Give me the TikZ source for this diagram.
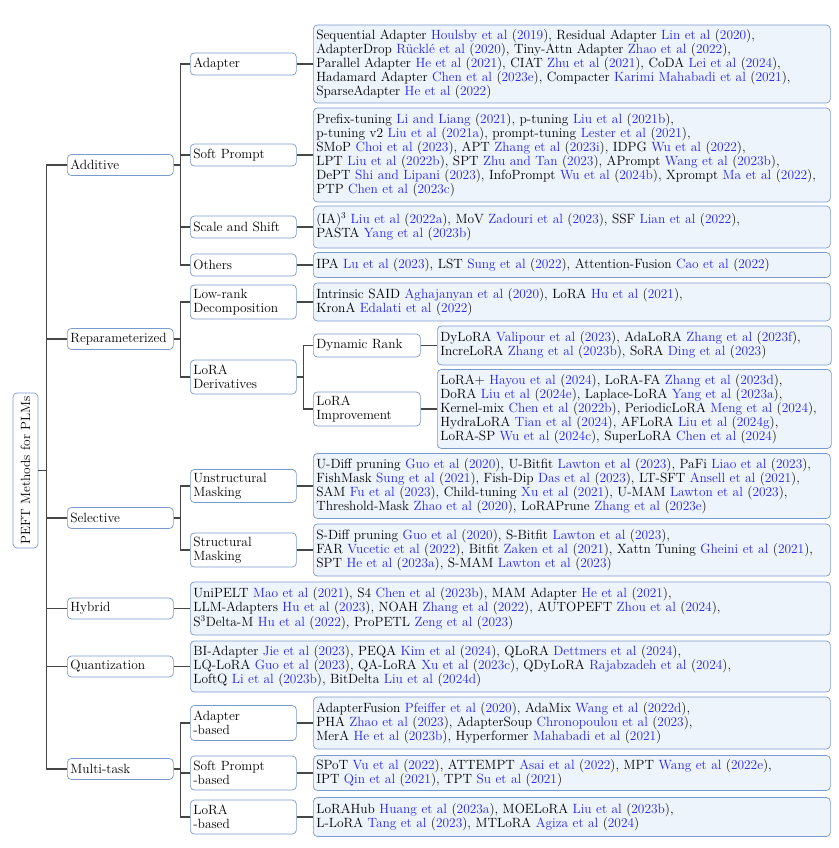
\documentclass[tikz,border=0pt]{standalone}
\definecolor{bcol}{RGB}{122,154,204}
\definecolor{lfill}{RGB}{238,244,252}
\definecolor{cb}{RGB}{35,35,235}
\definecolor{lcol}{RGB}{70,70,70}
\newcommand{\rf}[2]{\textcolor{cb}{#1} (\textcolor{cb}{#2})}
\tikzset{
 box/.style={draw=bcol, line width=0.7pt, rounded corners=4pt, anchor=west, align=left, inner xsep=3pt, inner ysep=1pt},
 cat/.style={box, fill=white, text width=100pt},
 sub/.style={box, fill=white, text width=101pt},
 leaf/.style={box, fill=lfill},
 wleaf/.style={leaf, text width=511pt},
 hleaf/.style={leaf, text width=634pt},
 nleaf/.style={leaf, text width=388pt},
 conn/.style={draw=lcol, line width=1.1pt},
}
\begin{document}
\begin{tikzpicture}[x=1pt, y=-1pt, font=\fontsize{13.4}{13.9}\selectfont]
\useasboundingbox (0,0) rectangle (838,848);
% root
\node[draw=bcol, line width=0.7pt, rounded corners=4pt, fill=white, rotate=90, minimum width=155pt, minimum height=25pt, inner sep=1pt] (root) at (25.5,470.5) {PEFT Methods for PLMs};
% level 1
\node[cat, minimum height=21pt] (add) at (67,165) {Additive};
\node[cat, minimum height=21pt] (rep) at (67,339) {Reparameterized};
\node[cat, minimum height=21pt] (sel) at (67,518) {Selective};
\node[cat, minimum height=21pt] (hyb) at (67,608.5) {Hybrid};
\node[cat, minimum height=21pt] (qua) at (67,666.5) {Quantization};
\node[cat, minimum height=21pt] (mtk) at (67,769) {Multi-task};
% level 2
\node[cat, minimum height=22pt] (adp) at (190,64) {Adapter};
\node[cat, minimum height=22pt] (spr) at (190,155) {Soft Prompt};
\node[cat, minimum height=22pt] (sas) at (190,227) {Scale and Shift};
\node[cat, minimum height=22pt] (oth) at (190,265) {Others};
\node[cat, minimum height=34pt] (lrd) at (190,302) {Low-rank\\Decomposition};
\node[cat, minimum height=34pt] (lod) at (190,377) {LoRA\\Derivatives};
\node[cat, minimum height=33pt] (unm) at (190,486) {Unstructural\\Masking};
\node[cat, minimum height=34pt] (stm) at (190,550) {Structural\\Masking};
\node[cat, minimum height=35pt] (adb) at (190,723) {Adapter\\-based};
\node[cat, minimum height=34pt] (spb) at (190,773) {Soft Prompt\\-based};
\node[cat, minimum height=34pt] (lob) at (190,817) {LoRA\\-based};
% level 3
\node[sub, minimum height=23pt] (dyr) at (313,345.5) {Dynamic Rank};
\node[sub, minimum height=34pt] (loi) at (313,409) {LoRA\\Improvement};
% leaves
\node[wleaf, minimum height=78pt] (l-adp) at (313,64) {Sequential Adapter \rf{Houlsby et al}{2019}, Residual Adapter \rf{Lin et al}{2020},\\
AdapterDrop \rf{Rücklé et al}{2020}, Tiny-Attn Adapter \rf{Zhao et al}{2022},\\
Parallel Adapter \rf{He et al}{2021}, CIAT \rf{Zhu et al}{2021}, CoDA \rf{Lei et al}{2024},\\
Hadamard Adapter \rf{Chen et al}{2023e}, Compacter \rf{Karimi Mahabadi et al}{2021},\\
SparseAdapter \rf{He et al}{2022}};
\node[wleaf, minimum height=94pt] (l-spr) at (313,155) {Prefix-tuning \rf{Li and Liang}{2021}, p-tuning \rf{Liu et al}{2021b},\\
p-tuning v2 \rf{Liu et al}{2021a}, prompt-tuning \rf{Lester et al}{2021},\\
SMoP \rf{Choi et al}{2023}, APT \rf{Zhang et al}{2023i}, IDPG \rf{Wu et al}{2022},\\
LPT \rf{Liu et al}{2022b}, SPT \rf{Zhu and Tan}{2023}, APrompt \rf{Wang et al}{2023b},\\
DePT \rf{Shi and Lipani}{2023}, InfoPrompt \rf{Wu et al}{2024b}, Xprompt \rf{Ma et al}{2022},\\
PTP \rf{Chen et al}{2023c}};
\node[wleaf, minimum height=42pt] (l-sas) at (313,227) {(IA)$^3$ \rf{Liu et al}{2022a}, MoV \rf{Zadouri et al}{2023}, SSF \rf{Lian et al}{2022},\\
PASTA \rf{Yang et al}{2023b}};
\node[wleaf, minimum height=25pt] (l-oth) at (313,265) {IPA \rf{Lu et al}{2023}, LST \rf{Sung et al}{2022}, Attention-Fusion \rf{Cao et al}{2022}};
\node[wleaf, minimum height=38pt] (l-lrd) at (313,302) {Intrinsic SAID \rf{Aghajanyan et al}{2020}, LoRA \rf{Hu et al}{2021},\\
KronA \rf{Edalati et al}{2022}};
\node[nleaf, minimum height=39pt] (l-dyr) at (437,345.5) {DyLoRA \rf{Valipour et al}{2023}, AdaLoRA \rf{Zhang et al}{2023f},\\
IncreLoRA \rf{Zhang et al}{2023b}, SoRA \rf{Ding et al}{2023}};
\node[nleaf, minimum height=79pt] (l-loi) at (437,409) {LoRA+ \rf{Hayou et al}{2024}, LoRA-FA \rf{Zhang et al}{2023d},\\
DoRA \rf{Liu et al}{2024e}, Laplace-LoRA \rf{Yang et al}{2023a},\\
Kernel-mix \rf{Chen et al}{2022b}, PeriodicLoRA \rf{Meng et al}{2024},\\
HydraLoRA \rf{Tian et al}{2024}, AFLoRA \rf{Liu et al}{2024g},\\
LoRA-SP \rf{Wu et al}{2024c}, SuperLoRA \rf{Chen et al}{2024}};
\node[wleaf, minimum height=65pt] (l-unm) at (313,486) {U-Diff pruning \rf{Guo et al}{2020}, U-Bitfit \rf{Lawton et al}{2023}, PaFi \rf{Liao et al}{2023},\\
FishMask \rf{Sung et al}{2021}, Fish-Dip \rf{Das et al}{2023}, LT-SFT \rf{Ansell et al}{2021},\\
SAM \rf{Fu et al}{2023}, Child-tuning \rf{Xu et al}{2021}, U-MAM \rf{Lawton et al}{2023},\\
Threshold-Mask \rf{Zhao et al}{2020}, LoRAPrune \rf{Zhang et al}{2023e}};
\node[wleaf, minimum height=52pt] (l-stm) at (313,550) {S-Diff pruning \rf{Guo et al}{2020}, S-Bitfit \rf{Lawton et al}{2023},\\
FAR \rf{Vucetic et al}{2022}, Bitfit \rf{Zaken et al}{2021}, Xattn Tuning \rf{Gheini et al}{2021},\\
SPT \rf{He et al}{2023a}, S-MAM \rf{Lawton et al}{2023}};
\node[hleaf, minimum height=53pt] (l-hyb) at (190,608.5) {UniPELT \rf{Mao et al}{2021}, S4 \rf{Chen et al}{2023b}, MAM Adapter \rf{He et al}{2021},\\
LLM-Adapters \rf{Hu et al}{2023}, NOAH \rf{Zhang et al}{2022}, AUTOPEFT \rf{Zhou et al}{2024},\\
S$^3$Delta-M \rf{Hu et al}{2022}, ProPETL \rf{Zeng et al}{2023}};
\node[hleaf, minimum height=51pt] (l-qua) at (190,666.5) {BI-Adapter \rf{Jie et al}{2023}, PEQA \rf{Kim et al}{2024}, QLoRA \rf{Dettmers et al}{2024},\\
LQ-LoRA \rf{Guo et al}{2023}, QA-LoRA \rf{Xu et al}{2023c}, QDyLoRA \rf{Rajabzadeh et al}{2024},\\
LoftQ \rf{Li et al}{2023b}, BitDelta \rf{Liu et al}{2024d}};
\node[wleaf, minimum height=52pt] (l-adb) at (313,723) {AdapterFusion \rf{Pfeiffer et al}{2020}, AdaMix \rf{Wang et al}{2022d},\\
PHA \rf{Zhao et al}{2023}, AdapterSoup \rf{Chronopoulou et al}{2023},\\
MerA \rf{He et al}{2023b}, Hyperformer \rf{Mahabadi et al}{2021}};
\node[wleaf, minimum height=35pt] (l-spb) at (313,773) {SPoT \rf{Vu et al}{2022}, ATTEMPT \rf{Asai et al}{2022}, MPT \rf{Wang et al}{2022e},\\
IPT \rf{Qin et al}{2021}, TPT \rf{Su et al}{2021}};
\node[wleaf, minimum height=39pt] (l-lob) at (313,817) {LoRAHub \rf{Huang et al}{2023a}, MOELoRA \rf{Liu et al}{2023b},\\
L-LoRA \rf{Tang et al}{2023}, MTLoRA \rf{Agiza et al}{2024}};
% connectors
\foreach \c in {add,rep,sel,hyb,qua,mtk} \draw[conn] (root.south) -- ++(8,0) |- (\c.west);
\foreach \c in {adp,spr,sas,oth} \draw[conn] (add.east) -- ++(7,0) |- (\c.west);
\foreach \c in {lrd,lod} \draw[conn] (rep.east) -- ++(7,0) |- (\c.west);
\foreach \c in {unm,stm} \draw[conn] (sel.east) -- ++(7,0) |- (\c.west);
\foreach \c in {adb,spb,lob} \draw[conn] (mtk.east) -- ++(7,0) |- (\c.west);
\foreach \c in {dyr,loi} \draw[conn] (lod.east) -- ++(7,0) |- (\c.west);
\foreach \c in {adp,spr,sas,oth,lrd,unm,stm,adb,spb,lob,dyr,loi} \draw[conn] (\c.east) -- (l-\c.west);
\draw[conn] (hyb.east) -- (l-hyb.west);
\draw[conn] (qua.east) -- (l-qua.west);
\end{tikzpicture}
\end{document}
